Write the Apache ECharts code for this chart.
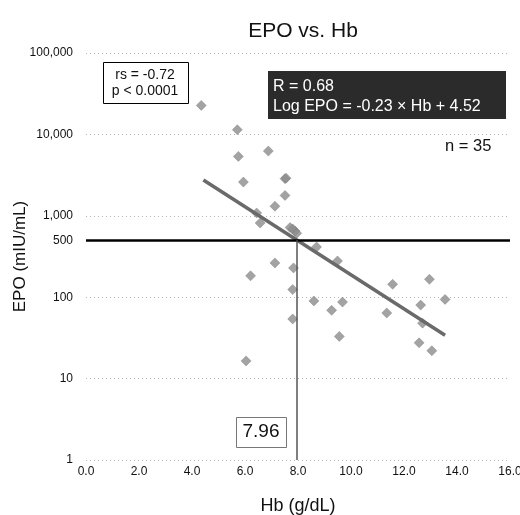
<!DOCTYPE html>
<html><head><meta charset="utf-8">
<script src="https://cdn.jsdelivr.net/npm/echarts@6/dist/echarts.min.js"></script>
<style>html,body{margin:0;padding:0;background:#fff}#c{width:520px;height:515px}</style>
</head><body><div id="c"></div>
<script>
// Hb (g/dL) and EPO (mIU/mL) per patient
const hb  = [4.35, 5.71, 5.75, 6.88, 5.94, 7.51, 7.51, 7.13, 6.44, 6.57, 7.70, 7.89, 7.80, 7.95, 8.70, 9.49, 7.13, 7.83, 6.21, 7.80,
             11.57, 12.96, 13.55, 8.60, 9.68, 9.27, 12.63, 11.35, 12.70, 7.80, 9.56, 12.57, 13.05, 6.04, 7.55];
const epo = [22700, 11400, 5370, 6240, 2600, 2860, 1780, 1310, 1085, 815, 716, 650, 690, 610, 414, 279, 264, 229, 183, 124,
             144, 166, 94, 90, 87, 69, 80, 64, 48, 54, 33, 27.5, 22, 16.5, 2900];
// regression line endpoints as drawn
const fitHb  = [4.43, 13.55];
const fitEpo = [2750, 34];
const cutoffEpo = 500;
const cutoffHb = 7.96;
const xTicks = [0, 2, 4, 6, 8, 10, 12, 14, 16];
const yTicks = [1, 10, 100, 1000, 10000, 100000];

const pts = hb.map((h, i) => [h, epo[i]]);
const fit = fitHb.map((h, i) => [h, fitEpo[i]]);
const fmt = v => Math.round(v).toString().replace(/\B(?=(\d{3})+(?!\d))/g, ',');
const F = 'Liberation Sans, Arial, sans-serif';

const chart = echarts.init(document.getElementById('c'), null, {renderer: 'canvas'});
chart.setOption({
  animation: false,
  backgroundColor: '#fff',
  title: {text: 'EPO vs. Hb', left: 298, top: 16, textAlign: 'center',
    textStyle: {fontFamily: F, fontSize: 21, fontWeight: 'normal', color: '#111'}},
  grid: {left: 86, right: 10, top: 53, bottom: 55, containLabel: false, outerBoundsMode: 'none'},
  xAxis: {
    type: 'value', min: xTicks[0], max: xTicks[xTicks.length - 1], interval: 2,
    name: 'Hb (g/dL)', nameLocation: 'middle', nameGap: 37, nameMoveOverlap: false,
    nameTextStyle: {fontFamily: F, fontSize: 18, color: '#111'},
    axisLine: {show: false}, axisTick: {show: false},
    axisLabel: {fontFamily: F, fontSize: 12, color: '#111', margin: 6, formatter: v => v.toFixed(1)},
    splitLine: {show: false}
  },
  yAxis: {
    type: 'log', logBase: 10, min: yTicks[0], max: yTicks[yTicks.length - 1],
    name: 'EPO (mIU/mL)', nameLocation: 'middle', nameGap: 57, nameMoveOverlap: false,
    nameTextStyle: {fontFamily: F, fontSize: 17, color: '#111'},
    axisLine: {show: false}, axisTick: {show: false},
    axisLabel: {fontFamily: F, fontSize: 12, color: '#111', margin: 13, formatter: fmt},
    splitLine: {show: true, lineStyle: {color: '#b5b5b5', width: 1, type: [1, 3]}}
  },
  series: [
    {
      type: 'scatter', data: pts, symbol: 'diamond', symbolSize: 10,
      itemStyle: {color: '#8c8c8c', borderColor: '#777', borderWidth: 0.5},
      z: 3,
      markLine: {
        silent: true, symbol: 'none', animation: false,
        data: [
          {yAxis: cutoffEpo, lineStyle: {color: '#000', width: 2.5, type: 'solid'},
           label: {show: true, position: 'start', formatter: '500', distance: 13,
             fontFamily: F, fontSize: 12, color: '#111'}},
          [{coord: [cutoffHb, yTicks[0]], lineStyle: {color: '#555', width: 1.5, type: 'solid'}, label: {show: false}},
           {coord: [cutoffHb, cutoffEpo]}]
        ]
      }
    },
    {
      type: 'line', data: fit, symbol: 'none', z: 4,
      lineStyle: {color: '#6a6a6a', width: 3.5}
    }
  ],
  graphic: [
    {type: 'rect', left: 103, top: 62, shape: {width: 85, height: 41},
      style: {fill: '#fff', stroke: '#000', lineWidth: 1}, z: 10},
    {type: 'text', x: 145, y: 75, z: 11,
      style: {text: 'rs = -0.72', font: '14px ' + F, fill: '#111', textAlign: 'center', textVerticalAlign: 'middle'}},
    {type: 'text', x: 145, y: 91, z: 11,
      style: {text: 'p < 0.0001', font: '14px ' + F, fill: '#111', textAlign: 'center', textVerticalAlign: 'middle'}},
    {type: 'rect', left: 268, top: 71, shape: {width: 238, height: 48},
      style: {fill: '#2b2b2b'}, z: 10},
    {type: 'text', x: 273, y: 87, z: 11,
      style: {text: 'R = 0.68', font: '16px ' + F, fill: '#fff', textAlign: 'left', textVerticalAlign: 'middle'}},
    {type: 'text', x: 273, y: 107, z: 11,
      style: {text: 'Log EPO = -0.23 × Hb + 4.52', font: '16px ' + F, fill: '#fff', textAlign: 'left', textVerticalAlign: 'middle'}},
    {type: 'text', x: 445, y: 146, z: 11,
      style: {text: 'n = 35', font: '16.5px ' + F, fill: '#111', textAlign: 'left', textVerticalAlign: 'middle'}},
    {type: 'rect', left: 236, top: 417, shape: {width: 50, height: 30},
      style: {fill: '#fff', stroke: '#777', lineWidth: 1}, z: 10},
    {type: 'text', x: 261, y: 432, z: 11,
      style: {text: '7.96', font: '19px ' + F, fill: '#111', textAlign: 'center', textVerticalAlign: 'middle'}}
  ]
});
</script></body></html>
